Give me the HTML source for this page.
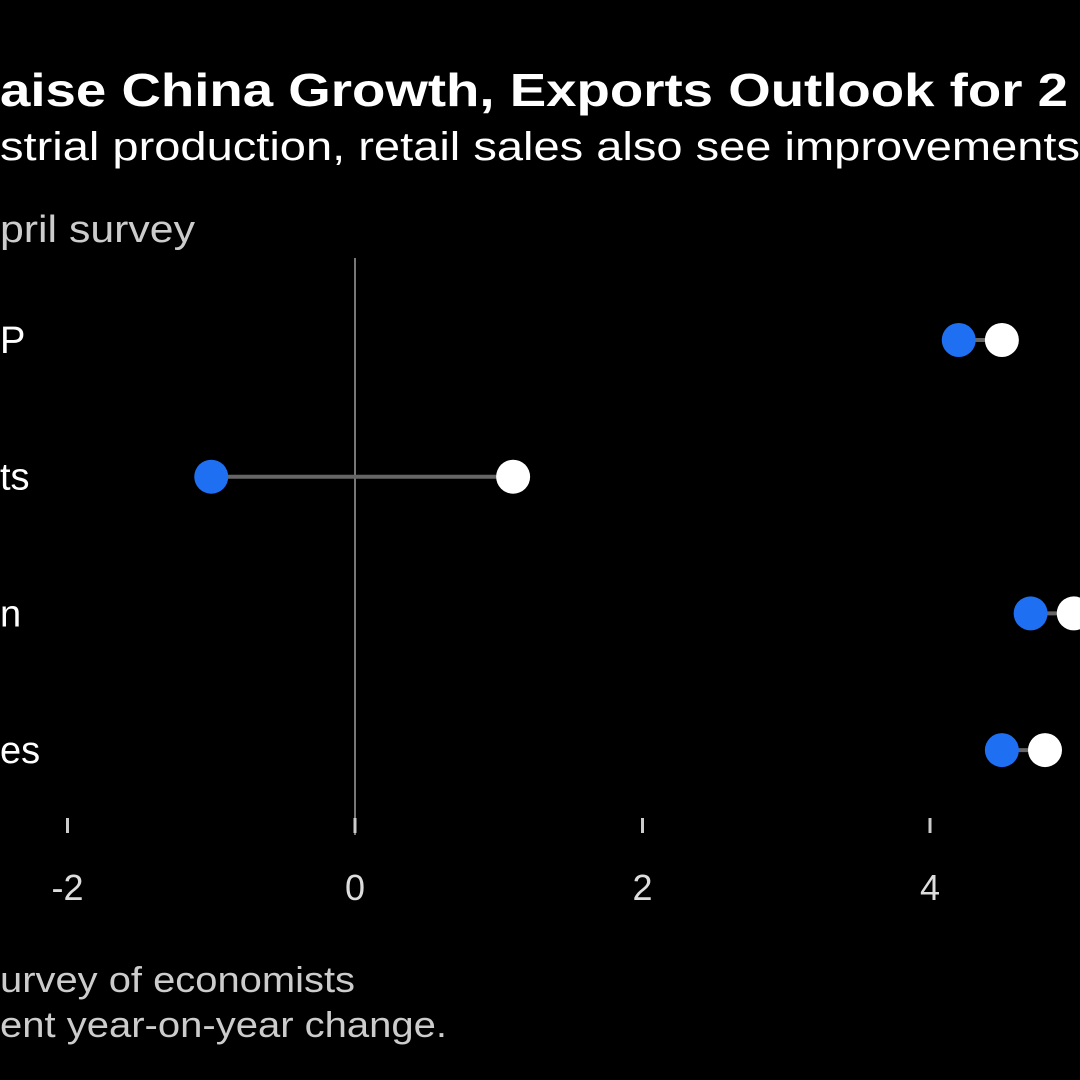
<!DOCTYPE html>
<html><head><meta charset="utf-8"><style>
html,body{margin:0;padding:0;background:#000;width:1080px;height:1080px;overflow:hidden}
svg{display:block;font-family:"Liberation Sans",sans-serif}
</style></head><body>
<svg id="chart" width="1080" height="1080" viewBox="0 0 1080 1080">
<rect width="1080" height="1080" fill="#000"/>
<text x="0" y="106" fill="#fff" font-weight="bold" font-size="46" textLength="1068" lengthAdjust="spacingAndGlyphs">aise China Growth, Exports Outlook for 2</text>
<text x="0" y="160" fill="#fff" font-size="40" textLength="1080" lengthAdjust="spacingAndGlyphs">strial production, retail sales also see improvements</text>
<text x="0" y="242" fill="#ccc" font-size="38" textLength="195" lengthAdjust="spacingAndGlyphs">pril survey</text>
<g id="plot"></g>
<text x="0" y="992" fill="#ccc" font-size="36" textLength="355" lengthAdjust="spacingAndGlyphs">urvey of economists</text>
<text x="0" y="1037" fill="#ccc" font-size="36" textLength="447" lengthAdjust="spacingAndGlyphs">ent year-on-year change.</text>
</svg>
<script>
const categories = ["P", "ts", "n", "es"];
const aprilValues = [4.2, -1.0, 4.7, 4.5];
const latestValues = [4.5, 1.1, 5.0, 4.8];
const tickValues = [-2, 0, 2, 4];
const tickLabels = ["-2", "0", "2", "4"];

const NS = "http://www.w3.org/2000/svg";
const plot = document.getElementById("plot");
const x = v => 355 + v * 143.75;
const y = i => 340 + i * 136.7;
function mk(tag, attrs) {
  const e = document.createElementNS(NS, tag);
  for (const k in attrs) e.setAttribute(k, attrs[k]);
  plot.appendChild(e);
  return e;
}
// zero line
let zl = mk("line", {x1: x(0), x2: x(0), y1: 258, y2: 835, stroke: "#777", "stroke-width": 2});


tickValues.forEach((t, i) => {
  const tk = mk("line", {x1: x(t), x2: x(t), y1: 818, y2: 833, stroke: "#ccc", "stroke-width": 3});
  
  
  const tl = mk("text", {x: x(t), y: 900, fill: "#ddd", "font-size": 36, "text-anchor": "middle"});
  tl.textContent = tickLabels[i];
  
  
});
categories.forEach((c, i) => {
  const lab = mk("text", {x: 0, y: y(i) + 13, fill: "#fff", "font-size": 38});
  lab.textContent = c;
  
  
  const ln = mk("line", {x1: x(aprilValues[i]), x2: x(latestValues[i]), y1: y(i), y2: y(i), stroke: "#666", "stroke-width": 4});
  
  
  const a = mk("circle", {cx: x(aprilValues[i]), cy: y(i), r: 17, fill: "#1f6ff2"});
  
  
  const b = mk("circle", {cx: x(latestValues[i]), cy: y(i), r: 17, fill: "#fff"});
  
  
});
</script>
</body></html>
